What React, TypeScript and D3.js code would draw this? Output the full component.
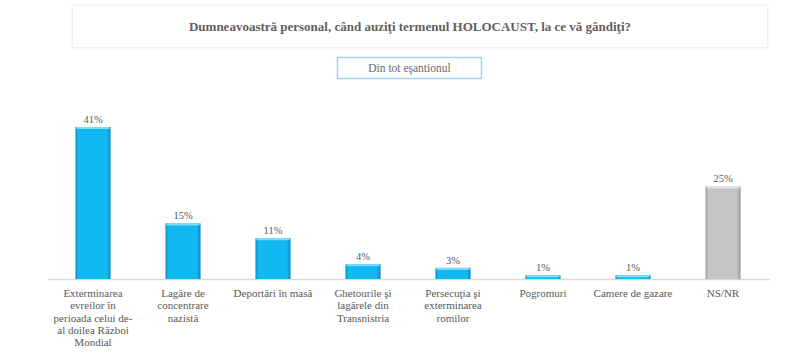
import React from "react";
import * as d3 from "d3";

const categories: string[][] = [
  ["Exterminarea", "evreilor în", "perioada celui de-", "al doilea Război", "Mondial"],
  ["Lagăre de", "concentrare", "nazistă"],
  ["Deportări în masă"],
  ["Ghetourile şi", "lagărele din", "Transnistria"],
  ["Persecuţia şi", "exterminarea", "romilor"],
  ["Pogromuri"],
  ["Camere de gazare"],
  ["NS/NR"],
];
const values: number[] = [41, 15, 11, 4, 3, 1, 1, 25];
const valueLabels: string[] = ["41%", "15%", "11%", "4%", "3%", "1%", "1%", "25%"];
const greyIndex: number[] = [7];

const title = "Dumneavoastră personal, când auziţi termenul HOLOCAUST, la ce vă gândiţi?";
const subtitle = "Din tot eşantionul";

const W = 800;
const H = 354;
const FONT = "'Liberation Serif', 'DejaVu Serif', serif";

export default function App() {
  const x = d3
    .scaleBand<number>()
    .domain(d3.range(values.length))
    .range([48, 768])
    .paddingInner(0.61)
    .paddingOuter(0.305);
  const y = d3.scaleLinear().domain([0, 41]).range([279, 127]);
  const bw = x.bandwidth();

  return (
    <svg width={W} height={H} style={{ position: "absolute", left: 0, top: 0 }}>
      <defs>
        <linearGradient id="gBlue" x1="0" x2="1" y1="0" y2="0">
          <stop offset="0" stopColor="#0a8fc4" />
          <stop offset="0.08" stopColor="#12b8f2" />
          <stop offset="0.9" stopColor="#12b8f2" />
          <stop offset="1" stopColor="#0a86b8" />
        </linearGradient>
        <linearGradient id="gGrey" x1="0" x2="1" y1="0" y2="0">
          <stop offset="0" stopColor="#9a9a9a" />
          <stop offset="0.08" stopColor="#c4c4c4" />
          <stop offset="0.9" stopColor="#c4c4c4" />
          <stop offset="1" stopColor="#959595" />
        </linearGradient>
        <filter id="sh" x="-20%" y="-20%" width="140%" height="140%">
          <feGaussianBlur stdDeviation="1.2" />
        </filter>
      </defs>
      <rect x={0} y={0} width={W} height={H} fill="#ffffff" />

      {/* title box */}
      <rect x={72} y={5} width={696} height={43} fill="#e3e8f0" filter="url(#sh)" />
      <rect x={73} y={6} width={694} height={41} fill="#ffffff" />
      <text x={410} y={31} textAnchor="middle" fontFamily={FONT} fontWeight="bold" fontSize={13} fill="#5f5f5f">
        {title}
      </text>

      {/* subtitle box */}
      <rect x={337.5} y={57.5} width={144} height={21} fill="#ffffff" stroke="#9ed6ef" strokeWidth={1.5} />
      <text x={409.5} y={72} textAnchor="middle" fontFamily={FONT} fontSize={11.5} fill="#6a6a6a">
        {subtitle}
      </text>

      {/* baseline */}
      <line x1={48} x2={770} y1={279.5} y2={279.5} stroke="#d9d9d9" strokeWidth={1.5} />

      {values.map((v, i) => {
        const grey = greyIndex.includes(i);
        const bx = x(i)!;
        const top = y(v);
        const h = y(0) - top;
        return (
          <g key={i}>
            <rect x={bx} y={top} width={bw} height={h} fill={grey ? "url(#gGrey)" : "url(#gBlue)"} />
            <rect x={bx + 1} y={top} width={bw - 2} height={Math.min(2, h)} fill={grey ? "#e6e6e6" : "#7fdcff"} />
            <text
              x={bx + bw / 2}
              y={top - 4}
              textAnchor="middle"
              fontFamily={FONT}
              fontSize={10.5}
              fill="#595959"
            >
              {valueLabels[i]}
            </text>
            <text textAnchor="middle" fontFamily={FONT} fontSize={11} fill="#595959">
              {categories[i].map((line, j) => (
                <tspan key={j} x={bx + bw / 2} y={297 + j * 12.3}>
                  {line}
                </tspan>
              ))}
            </text>
          </g>
        );
      })}
    </svg>
  );
}
